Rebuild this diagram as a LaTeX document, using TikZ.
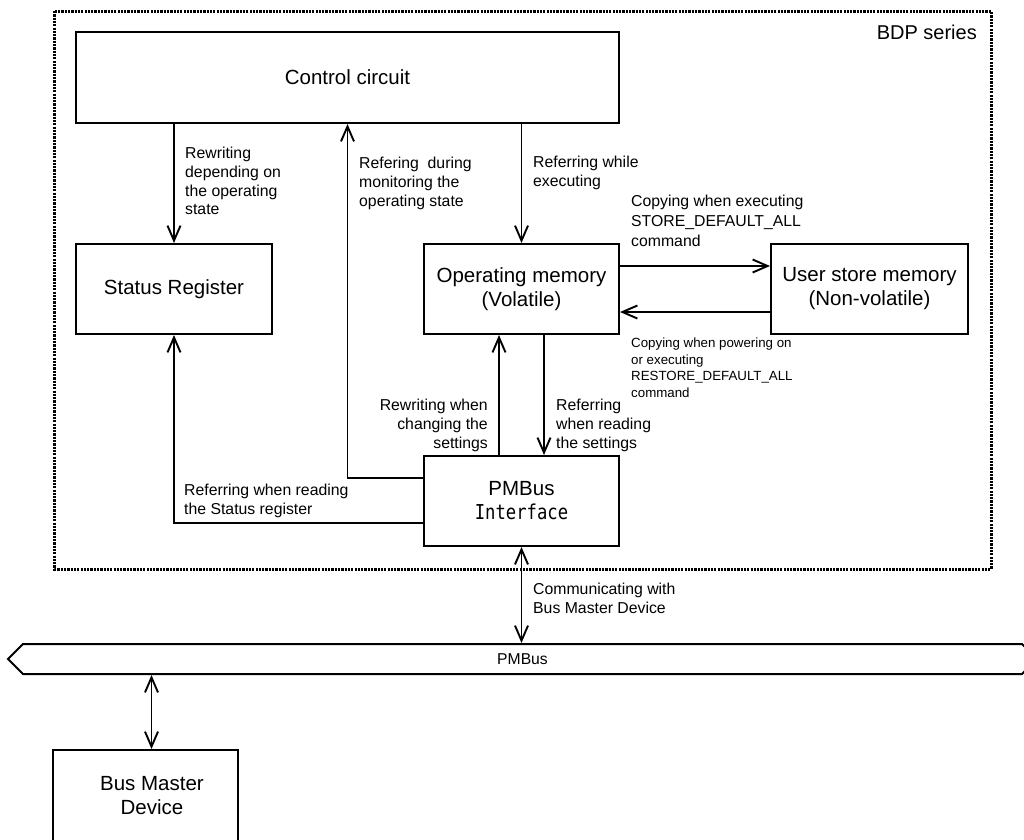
\documentclass[tikz,border=0pt]{standalone}
\usepackage{fontspec}
\setmainfont{Liberation Sans}
\newfontfamily\ifacefont[FakeStretch=0.84]{DejaVu Sans Mono}
\usetikzlibrary{arrows.meta,shapes.symbols}
\begin{document}
\begin{tikzpicture}[x=1pt,y=-1pt,
  box/.style={draw,line width=2pt,inner sep=0pt,align=center,font=\fontsize{20.5}{24}\selectfont},
  boxtext/.style={inner sep=0pt,align=center,font=\fontsize{20.5}{24}\selectfont},
  conn/.style={line width=1.9pt},
  arr/.style={conn,-{Straight Barb[length=15pt,width=13pt]}},
  darr/.style={conn,{Straight Barb[length=15pt,width=13pt]}-{Straight Barb[length=15pt,width=13pt]}},
  lab/.style={inner sep=0pt,align=left,font=\fontsize{15.8}{18.7}\selectfont},
  lab20/.style={inner sep=0pt,align=left,font=\fontsize{15.8}{20}\selectfont},
  slab/.style={inner sep=0pt,align=left,font=\fontsize{13.3}{16.4}\selectfont},
  frame/.style={line width=3pt,dash pattern=on 2.2pt off 1.1pt}
]
\useasboundingbox (0,0) rectangle (1024,839);
\clip (0,0) rectangle (1024,839);

% dotted frame
\draw[frame] (54.5,11) rectangle (991,569);
\node[anchor=east,inner sep=0pt,font=\fontsize{20}{24}\selectfont] (bdp) at (977,32) {BDP series};

% boxes
\node[box,minimum width=543,minimum height=91] (cc) at (347.5,77.5) {Control circuit};
\node[box,minimum width=196,minimum height=90] (sr) at (174,289) {Status Register};
\node[box,minimum width=195,minimum height=90] (om) at (521.5,289) {Operating memory\\(Volatile)};
\node[box,minimum width=197,minimum height=90] (us) at (869.5,289) {User store memory\\(Non-volatile)};
\node[box,minimum width=195,minimum height=90] (pi) at (521.5,501) {PMBus\\{\ifacefont Interface}};
\node[box,minimum width=185,minimum height=92] (bm) at (145.5,796) {};
\node[boxtext] (bmt) at (152,796) {Bus Master\\Device};

% bus bar
\node[draw,line width=2pt,shape=signal,signal to=west and east,signal pointer angle=90,
      minimum width=1029,minimum height=30,inner sep=0pt,font=\fontsize{15.7}{18}\selectfont] (bus) at (522.5,659) {PMBus};

% connectors
\draw[arr] (cc.south -| sr.north) -- (sr.north);
\draw[arr] ([yshift=23pt]pi.west) -| (cc.south);
\draw[arr] ([yshift=-22pt]pi.west) -| (sr.south);
\draw[arr] (cc.south -| om.north) -- (om.north);
\draw[arr] ([yshift=23pt]om.east) -- ([yshift=23pt]us.west);
\draw[arr] ([yshift=-23pt]us.west) -- ([yshift=-23pt]om.east);
\draw[arr] ([xshift=-22.5pt]pi.north) -- ([xshift=-22.5pt]om.south);
\draw[arr] ([xshift=22.5pt]om.south) -- ([xshift=22.5pt]pi.north);
\draw[darr] (pi.south) -- (pi.south |- bus.north);
\draw[darr] ([xshift=6pt]bm.north) -- ([xshift=6pt]bm.north |- bus.south);

% labels
\node[lab,anchor=north west] (l1) at (185,147) {Rewriting\\depending on\\the operating\\state};
\node[lab,anchor=north west] (l2) at (359,157) {Refering\ \ during\\monitoring the\\operating state};
\node[lab,anchor=north west] (l3) at (533,156) {Referring while\\executing};
\node[lab20,anchor=north west] (l4) at (631,195) {Copying when executing\\STORE\_DEFAULT\_ALL\\command};
\node[slab,anchor=north west] (l5) at (631,338) {Copying when powering on\\or executing\\RESTORE\_DEFAULT\_ALL\\command};
\node[lab,anchor=north east,align=right] (l6) at (488,399) {Rewriting when\\changing the\\settings};
\node[lab,anchor=north west] (l7) at (556,399) {Referring\\when reading\\the settings};
\node[lab,anchor=north west] (l8) at (184,484) {Referring when reading\\the Status register};
\node[lab,anchor=north west] (l9) at (533,583) {Communicating with\\Bus Master Device};
\end{tikzpicture}
\end{document}
